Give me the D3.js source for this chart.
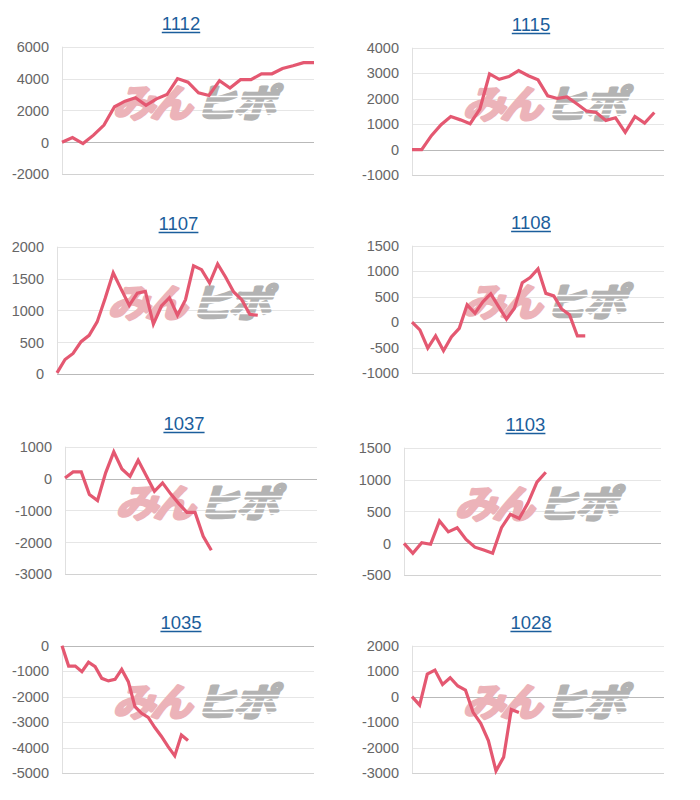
<!DOCTYPE html>
<html><head><meta charset="utf-8">
<script src="https://cdn.jsdelivr.net/npm/d3@7"></script>
<style>body{margin:0;background:#fff;} svg{display:block;}</style>
</head><body>
<svg id="c" width="700" height="800"></svg>
<script>
// ---- data ----
const titles = ["1112","1115","1107","1108","1037","1103","1035","1028"];
const xCounts = [25, 27, 33, 33, 32, 30, 39, 34];
const yDomains = [[-2000,6000],[-1000,4000],[0,2000],[-1000,1500],[-3000,1000],[-500,1500],[-5000,0],[-3000,2000]];
const yTickSteps = [2000, 1000, 500, 500, 1000, 500, 1000, 1000];

const s1112 = [0,300,-80,450,1080,2230,2580,2800,2320,2730,3000,4000,3770,3100,2940,3870,3410,3930,3930,4300,4300,4630,4800,5000,5000];
const s1115 = [0,0,550,980,1300,1170,1020,1590,2970,2760,2870,3100,2900,2740,2110,2010,2070,1800,1520,1460,1150,1250,680,1300,1040,1460];
const s1107 = [20,230,325,510,610,820,1190,1590,1330,1080,1270,1300,785,1070,1200,925,1170,1700,1640,1430,1730,1520,1290,1170,940,925];
const s1108 = [0,-150,-510,-270,-560,-290,-120,340,175,400,555,305,60,275,775,875,1045,565,515,260,145,-270,-270];
const s1037 = [20,210,210,-500,-690,180,840,300,70,575,90,-400,-135,-480,-785,-1060,-1060,-1810,-2250];
const s1103 = [0,-155,10,-15,350,180,245,60,-60,-105,-155,245,455,390,635,960,1115];
const s1035 = [0,-800,-800,-1020,-650,-820,-1280,-1380,-1320,-930,-1410,-2390,-2650,-2810,-3210,-3560,-3960,-4320,-3500,-3720];
const s1028 = [0,-330,890,1045,480,745,420,260,-615,-1045,-1720,-2910,-2370,-500,-615];
const seriesList = [s1112, s1115, s1107, s1108, s1037, s1103, s1035, s1028];

// ---- layout ----
const plotLeft  = [62, 412, 57, 412, 65, 404, 62, 412];
const plotRight = [314, 664, 314, 664, 317, 661, 314, 664];
const plotTop   = [46.7, 47.7, 246.7, 245.7, 446.7, 447.7, 645.7, 645.7];
const plotH = 127.5;

const svg = d3.select("#c");
const lineColor = "rgb(228,88,113)";

titles.forEach((t, i) => {
  const L = plotLeft[i], R = plotRight[i], T = plotTop[i], B = T + plotH;
  const x = d3.scaleLinear().domain([0, xCounts[i] - 1]).range([L, R]);
  const y = d3.scaleLinear().domain(yDomains[i]).range([B, T]);
  const g = svg.append("g");

  const [y0, y1] = yDomains[i];
  const ticks = d3.range(y0, y1 + 1, yTickSteps[i]);

  g.selectAll("line.grid").data(ticks).join("line")
    .attr("x1", L).attr("x2", R)
    .attr("y1", d => Math.round(y(d)) + 0.5).attr("y2", d => Math.round(y(d)) + 0.5)
    .attr("stroke", d => d === 0 ? "#b9b9b9" : (d === y0 ? "#d2d2d2" : "#e6e6e6"))
    .attr("stroke-width", 1);
  g.append("line").attr("x1", Math.round(L) + 0.5).attr("x2", Math.round(L) + 0.5)
    .attr("y1", T).attr("y2", B).attr("stroke", "#e0e0e0");

  g.selectAll("text.tick").data(ticks).join("text")
    .attr("x", L - 13).attr("y", d => y(d))
    .attr("dy", "0.36em")
    .attr("text-anchor", "end")
    .attr("font-family", "'Liberation Sans', Arial, sans-serif")
    .attr("font-size", 14.5)
    .attr("fill", "#666")
    .text(d => d);

  // watermark logo
  const lg = g.append("g").attr("transform", `translate(${L + 52},${T + 41}) scale(1.1,1)`);
  const sk = lg.append("g").attr("transform", "skewX(-16) translate(7,0)");
  sk.append("text").attr("x", 0).attr("y", 29)
    .attr("font-family", "'Noto Sans CJK JP', sans-serif").attr("font-weight", 700)
    .attr("font-size", 38).attr("fill", "#ecb3b9")
    .attr("stroke", "#ecb3b9").attr("stroke-width", 3).attr("stroke-linejoin", "round")
    .attr("letter-spacing", -4)
    .text("みん");
  sk.append("text").attr("x", 74).attr("y", 29)
    .attr("font-family", "'Noto Sans CJK JP', sans-serif").attr("font-weight", 700)
    .attr("font-size", 38).attr("fill", "#b3b3b3")
    .attr("stroke", "#b3b3b3").attr("stroke-width", 3).attr("stroke-linejoin", "round")
    .attr("letter-spacing", -2)
    .text("ヒポ");
  [8, 14, 20, 25].forEach(yy => {
    sk.append("rect").attr("x", 74).attr("y", yy).attr("width", 84).attr("height", 1.6).attr("fill", "#fff");
  });

  const line = d3.line().x((d, k) => x(k)).y(d => y(d));
  g.append("path").datum(seriesList[i])
    .attr("d", line)
    .attr("fill", "none")
    .attr("stroke", lineColor)
    .attr("stroke-width", 3.2)
    .attr("stroke-linejoin", "miter");

  const cx = (L + R) / 2 - 7;
  const tt = g.append("text").attr("x", cx).attr("y", T - 16.5)
    .attr("text-anchor", "middle")
    .attr("font-family", "'Liberation Sans', Arial, sans-serif")
    .attr("font-size", 18.5)
    .attr("fill", "#1b5e9c")
    .text(t);
  const w = tt.node().getComputedTextLength();
  g.append("line").attr("x1", cx - w / 2).attr("x2", cx + w / 2)
    .attr("y1", T - 14.2).attr("y2", T - 14.2)
    .attr("stroke", "#1b5e9c").attr("stroke-width", 1.3);
});
</script>
</body></html>
